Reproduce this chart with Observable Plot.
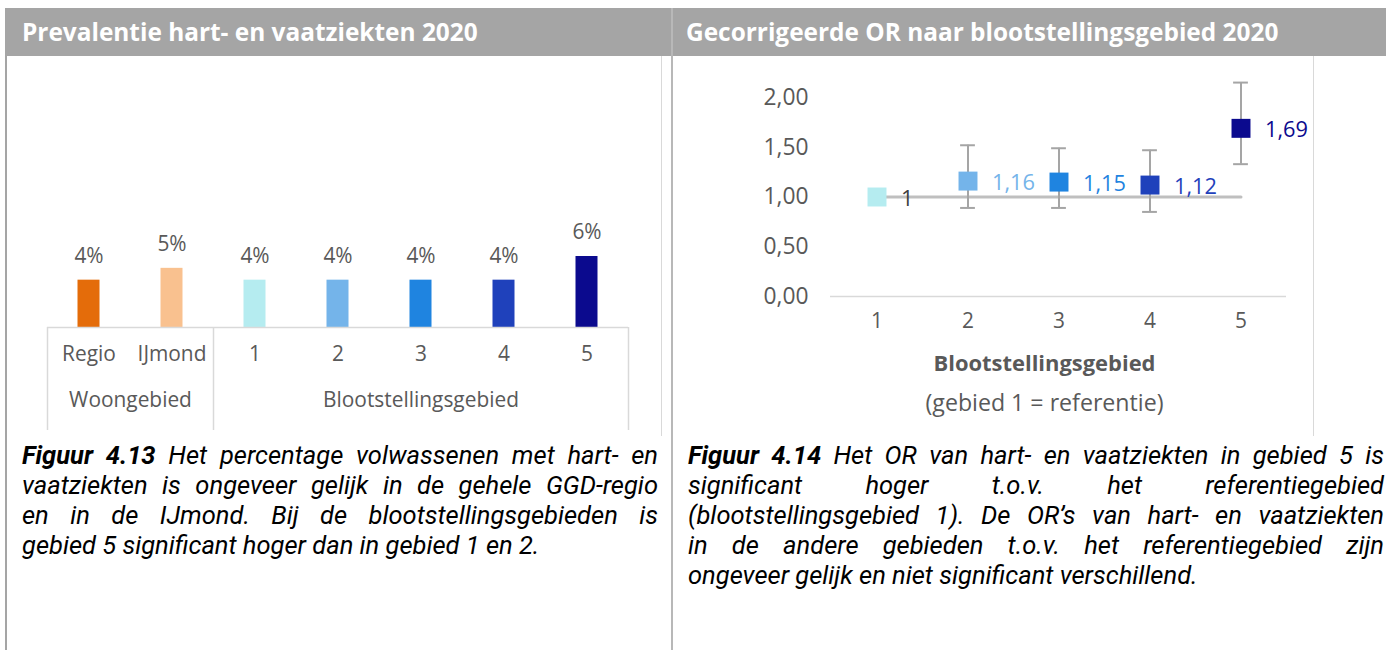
<!DOCTYPE html>
<html><head><meta charset="utf-8">
<script src="https://cdn.jsdelivr.net/npm/d3@7"></script>
<script src="https://cdn.jsdelivr.net/npm/@observablehq/plot@0.6"></script>
<style>
body{margin:0;width:1386px;height:650px;overflow:hidden;background:#fff;font-family:"Open Sans",sans-serif;position:relative}
.hdr{position:absolute;top:8px;left:5px;width:1381px;height:48px;background:#a5a5a5}
.hdr span{position:absolute;top:0;line-height:48px;color:#fff;font-weight:bold;white-space:nowrap}
.vl{position:absolute;width:2px;background:#a5a5a5}
.fl{position:absolute;width:1px;background:#d9d9d9}
.cap{position:absolute;font-family:Roboto,"Open Sans",sans-serif;font-style:italic;color:#000;line-height:30px}
.cap div{text-align:justify;text-align-last:justify;white-space:nowrap;height:30px}
.cap div.last{text-align-last:left}
.panel{position:absolute;top:56px}
</style></head>
<body>
<div class="hdr"><span id="h1" style="left:17px">Prevalentie hart- en vaatziekten 2020</span><span id="h2" style="left:681px">Gecorrigeerde OR naar blootstellingsgebied 2020</span></div>
<div class="vl" style="left:5px;top:56px;height:594px"></div>
<div class="vl" style="left:671px;top:8px;height:642px;background:#b8b8b8"></div>
<div class="fl" style="left:661px;top:56px;height:380px"></div>
<div class="fl" style="left:1313px;top:56px;height:380px"></div>
<div id="left" class="panel" style="left:0"></div>
<div id="right" class="panel" style="left:672px"></div>
<div class="cap" id="c1" style="left:22px;top:440px;width:636px">
<div><b>Figuur 4.13</b> Het percentage volwassenen met hart- en</div>
<div>vaatziekten is ongeveer gelijk in de gehele GGD-regio</div>
<div>en in de IJmond. Bij de blootstellingsgebieden is</div>
<div class="last">gebied 5 significant hoger dan in gebied 1 en 2.</div>
</div>
<div class="cap" id="c2" style="left:688px;top:440px;width:696px">
<div><b>Figuur 4.14</b> Het OR van hart- en vaatziekten in gebied 5 is</div>
<div>significant hoger t.o.v. het referentiegebied</div>
<div>(blootstellingsgebied 1). De OR’s van hart- en vaatziekten</div>
<div>in de andere gebieden t.o.v. het referentiegebied zijn</div>
<div class="last">ongeveer gelijk en niet significant verschillend.</div>
</div>
<script>
// ---- data ----
const woongebied = ["Regio", "IJmond"];
const blootstellingsgebied = ["1", "2", "3", "4", "5"];
const groepLabels = ["Woongebied", "Blootstellingsgebied"];
const prevalentie = [4, 5, 4, 4, 4, 4, 6]; // % per category (Regio, IJmond, 1..5)
const orValues = [1, 1.16, 1.15, 1.12, 1.69];
const ciLow = [null, 0.89, 0.89, 0.85, 1.33];
const ciHigh = [null, 1.52, 1.49, 1.47, 2.15];
const referentie = [1, 1, 1, 1, 1];
const yTicks = [0, 0.5, 1, 1.5, 2];
const xTitle = "Blootstellingsgebied";
const xSubtitle = "(gebied 1 = referentie)";

// ---- palette / typography ----
const barColors = ["#e46c0a", "#f9c18f", "#b5ecf0", "#74b4ea", "#1f84e0", "#1f41bb", "#0b0a8e"];
const labelColors = ["#404040", "#74b4ea", "#1f84e0", "#1f41bb", "#0b0a8e"];
const txt = "#595959";
const FONT = "'Open Sans', sans-serif";
const ctx = document.createElement("canvas").getContext("2d");
function measure(text, size, weight = "normal", style = "normal", family = "'Open Sans'") {
  ctx.font = `${style} ${weight} ${size}px ${family}`;
  return ctx.measureText(text).width;
}
function fit(text, target, weight = "normal", style = "normal", family = "'Open Sans'") {
  return +(100 * target / measure(text, 100, weight, style, family)).toFixed(2);
}
const fsTick = fit("Blootstellingsgebied", 196);
const fsVal = fit("1,69", 43);
const fsY = fit("2,00", 45);
const fsTitle = fit(xTitle, 222, "bold");
const fsSub = fit(xSubtitle, 238);
const fsHdr = fit("Prevalentie hart- en vaatziekten 2020", 456, "bold");
const capLast = "gebied 5 significant hoger dan in gebied 1 en 2.";
const fsCap = Math.min(25.5, fit(capLast, 560, "normal", "italic", "Roboto"));
document.getElementById("h1").style.fontSize = fsHdr + "px";
document.getElementById("h2").style.fontSize = fsHdr + "px";
for (const id of ["c1", "c2"]) document.getElementById(id).style.fontSize = fsCap + "px";

// ---- left chart ----
const categories = [...woongebied, ...blootstellingsgebied];
const prevData = categories.map((c, i) => ({cat: c, value: prevalentie[i]}));
const W1 = 665, H1 = 380, mL1 = 47, mR1 = 37, mT1 = 200, mB1 = 109;
const step1 = (W1 - mL1 - mR1) / categories.length;
const frameH1 = H1 - mT1 - mB1;
const sepStyle = {stroke: "#d9d9d9", strokeWidth: 1.5, insetTop: frameH1, insetBottom: -103};
const left = Plot.plot({
  width: W1, height: H1, marginLeft: mL1, marginRight: mR1, marginTop: mT1, marginBottom: mB1,
  style: {fontFamily: FONT, overflow: "visible", background: "transparent"},
  x: {domain: categories, padding: 0, axis: null},
  y: {domain: [0, 6], axis: null},
  color: {domain: categories, range: barColors},
  marks: [
    Plot.barY(prevData, {x: "cat", y: "value", fill: "cat", insetLeft: 30.5, insetRight: 30.5}),
    Plot.ruleY([0], {stroke: "#d9d9d9", strokeWidth: 1.5}),
    Plot.text(prevData, {x: "cat", y: "value", text: d => Math.round(d.value) + "%", dy: -24, fill: txt, fontSize: fsTick}),
    Plot.text(prevData, {x: "cat", text: "cat", frameAnchor: "bottom", dy: 33, fill: txt, fontSize: fsTick}),
    Plot.ruleX([woongebied[0], blootstellingsgebied[0]], {...sepStyle, dx: -step1 / 2}),
    Plot.ruleX([blootstellingsgebied[blootstellingsgebied.length - 1]], {...sepStyle, dx: step1 / 2}),
    Plot.text([woongebied[1]], {x: d => d, text: () => groepLabels[0], dx: -step1 / 2, frameAnchor: "bottom", dy: 79, fill: txt, fontSize: fsTick}),
    Plot.text([blootstellingsgebied[2]], {x: d => d, text: () => groepLabels[1], frameAnchor: "bottom", dy: 79, fill: txt, fontSize: fsTick})
  ]
});
document.getElementById("left").appendChild(left);

// ---- right chart ----
const orData = blootstellingsgebied.map((g, i) => ({gebied: g, or: orValues[i], lo: ciLow[i], hi: ciHigh[i], ref: referentie[i], lc: labelColors[i]}));
const orCI = orData.filter(d => d.lo != null);
const W2 = 714, H2 = 380, mL2 = 158, mR2 = 100, mT2 = 41, mB2 = 140;
const step2 = (W2 - mL2 - mR2) / blootstellingsgebied.length;
const capInset = (step2 - 15) / 2;
const fmt = v => String(v).replace(".", ",");
const right = Plot.plot({
  width: W2, height: H2, marginLeft: mL2, marginRight: mR2, marginTop: mT2, marginBottom: mB2,
  style: {fontFamily: FONT, fontSize: fsY + "px", color: txt, overflow: "visible", background: "transparent"},
  x: {domain: blootstellingsgebied, padding: 0, axis: null},
  y: {domain: [0, 2], ticks: yTicks, tickFormat: d => d.toFixed(2).replace(".", ","), tickSize: 0, tickPadding: 22, label: null},
  color: {domain: blootstellingsgebied, range: barColors.slice(2)},
  marks: [
    Plot.ruleY([0], {stroke: "#d9d9d9", strokeWidth: 1.5}),
    Plot.line(orData, {x: "gebied", y: "ref", stroke: "#bfbfbf", strokeWidth: 3}),
    Plot.ruleX(orCI, {x: "gebied", y1: "lo", y2: "hi", stroke: "#a5a5a5", strokeWidth: 2}),
    Plot.tickY(orCI, {x: "gebied", y: "lo", insetLeft: capInset, insetRight: capInset, stroke: "#a5a5a5", strokeWidth: 2}),
    Plot.tickY(orCI, {x: "gebied", y: "hi", insetLeft: capInset, insetRight: capInset, stroke: "#a5a5a5", strokeWidth: 2}),
    Plot.dot(orData, {x: "gebied", y: "or", symbol: "square", r: 10.7, fill: "gebied", stroke: "none"}),
    Plot.text(orData, {x: "gebied", y: "or", text: d => fmt(d.or), textAnchor: "start", dx: 24, dy: 2, fill: "lc", fontSize: fsVal}),
    Plot.text(orData, {x: "gebied", text: "gebied", frameAnchor: "bottom", dy: 31, fill: txt, fontSize: fsTick}),
    Plot.text([xTitle], {text: d => d, frameAnchor: "bottom", dx: -14, dy: 74, fill: txt, fontSize: fsTitle, fontWeight: "bold"}),
    Plot.text([xSubtitle], {text: d => d, frameAnchor: "bottom", dx: -14, dy: 114, fill: txt, fontSize: fsSub})
  ]
});
document.getElementById("right").appendChild(right);
</script>
</body></html>
